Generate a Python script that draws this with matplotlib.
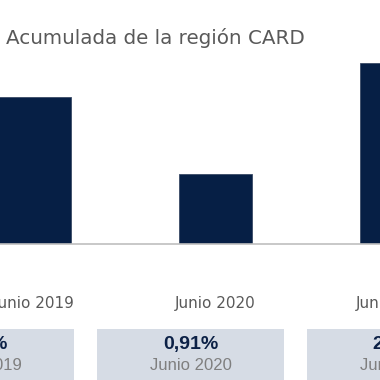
import matplotlib.pyplot as plt
import numpy as np

# data
periodos = ['Junio 2019', 'Junio 2020', 'Junio 2021']
inflacion = [1.91, 0.91, 2.35]
etiquetas = ['1,91%', '0,91%', '2,35%']
titulo = 'Inflación Acumulada de la región CARD'

bar_color = '#061f45'
box_color = '#d6dce5'
grey = '#595959'

W = H = 380
fig = plt.figure(figsize=(3.8, 3.8), dpi=100)

# bar axes: baseline at y=244 px, bar pitch 181 px, first bar centre at x=34.5 px
ax = fig.add_axes([0, 1 - 244 / H, 1, 244 / H])
x = np.arange(len(periodos))
ax.bar(x, inflacion, width=73 / 181, color=bar_color, edgecolor='#3a4a66', linewidth=0.6)
ax.set_xlim(-34.5 / 181, (W - 34.5) / 181)
ax.set_ylim(0, 244 / 76.9)
for s in ['top', 'left', 'right']:
    ax.spines[s].set_visible(False)
ax.spines['bottom'].set_color('#bfbfbf')
ax.spines['bottom'].set_linewidth(1.2)
ax.set_xticks([])
ax.set_yticks([])

for xi, p in zip(x, periodos):
    ax.annotate(p, (xi, 0), xycoords=('data', 'axes fraction'),
                xytext=(0, -43), textcoords='offset points',
                ha='center', va='center', fontsize=11, color=grey,
                family='DejaVu Sans')

fig.text(305 / W, 1 - 38 / H, titulo, ha='right', va='center',
         fontsize=14.3, color=grey, family='DejaVu Sans')

# box axes: pitch 210 px, box centre of second box at 190.5 px
ax2 = fig.add_axes([0, 0, 1, 51 / H])
xb = np.arange(len(etiquetas))
ax2.bar(xb, 1, width=187 / 210, bottom=0, color=box_color)
ax2.set_xlim(1 - 190.5 / 210, 1 + (W - 190.5) / 210)
ax2.set_ylim(0, 1)
ax2.axis('off')
for xi, v, p in zip(xb, etiquetas, periodos):
    ax2.text(xi, 0.70, v, ha='center', va='center', fontsize=14,
             fontweight='bold', color='#0c2146', family='Liberation Sans')
    ax2.text(xi, 0.29, p, ha='center', va='center', fontsize=12,
             color='#7f7f7f', family='Liberation Sans')

fig.savefig('out.png', dpi=100)
